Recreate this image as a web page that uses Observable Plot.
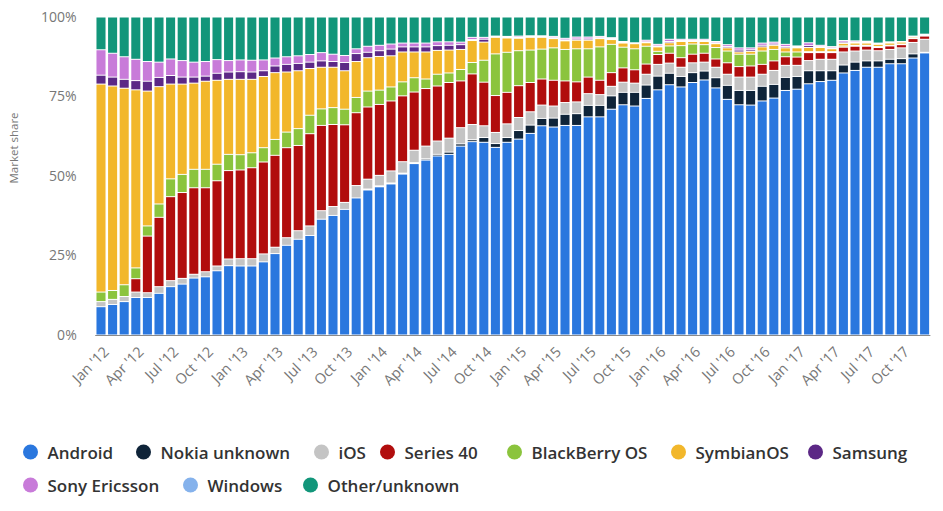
<!DOCTYPE html>
<html>
<head>
<meta charset="utf-8">
<script src="https://cdn.jsdelivr.net/npm/d3@7"></script>
<script src="https://cdn.jsdelivr.net/npm/@observablehq/plot@0.6"></script>
<style>
  html, body { margin: 0; padding: 0; background: #fff; }
  #wrap { position: relative; width: 943px; height: 511px; overflow: hidden; }
  #legend { position: absolute; left: 0; top: 0; width: 943px; height: 511px; pointer-events: none; }
  .item { position: absolute; display: flex; align-items: center; transform: translateY(-50%);
          font-family: "Open Sans", sans-serif; font-size: 17px; font-weight: 600; color: #333; white-space: nowrap; }
  .dot { width: 15px; height: 15px; border-radius: 50%; margin-right: 10px; flex: none; }
</style>
</head>
<body>
<div id="wrap"><div id="chart"></div><div id="legend"></div></div>
<script>
// ---- categories ----
const series = ["Android","Nokia unknown","iOS","Series 40","BlackBerry OS","SymbianOS","Samsung","Sony Ericsson","Windows","Other/unknown"];
const colors = ["#2a77de","#0f2439","#c4c4c4","#b10d0d","#8bc43d","#f2b72b","#5c2886","#c87bd9","#85b2ec","#12967a"];
const monthNames = ["Jan","Feb","Mar","Apr","May","Jun","Jul","Aug","Sep","Oct","Nov","Dec"];
const years = [2012, 2013, 2014, 2015, 2016, 2017];
const months = years.flatMap(y => monthNames.map(m => `${m} '${String(y).slice(2)}`));

// ---- series values (market share, %) ----
const android = [8.9,9.6,10.5,11.8,11.8,13.1,15.2,16.0,17.9,18.3,20.2,21.8,
  21.7,21.7,23.0,25.6,28.2,30.1,31.3,36.4,37.6,39.5,43.1,45.6,
  46.6,47.5,50.6,53.9,55.0,56.3,56.8,59.4,60.8,60.6,59.0,60.6,
  61.6,63.4,65.8,65.4,65.9,65.9,68.6,68.6,71.0,72.4,72.0,74.4,
  77.1,78.7,78.0,79.4,80.2,77.7,74.1,72.4,72.3,73.6,74.5,76.9,
  77.3,79.0,79.7,80.1,82.4,83.2,84.2,84.2,85.3,85.3,87.1,88.7];
const nokiaUnknown = [0,0,0,0,0,0,0,0,0,0,0,0,
  0,0,0,0,0,0,0,0,0,0,0,0.3,
  0.3,0.3,0.3,0.3,0.4,0.5,0.7,0.7,0.6,1.5,1.2,1.5,
  2.7,2.6,2.3,2.8,3.5,3.7,3.6,3.6,4.2,3.9,4.3,4.2,
  4.3,3.6,3.3,3.1,2.8,3.2,4.4,4.5,4.6,4.6,4.3,4.1,
  4.0,4.1,3.4,3.0,2.5,2.6,2.0,2.0,1.4,1.6,1.3,0.2];
const ios = [1.6,1.6,1.6,1.7,1.5,2.1,1.9,1.8,1.2,1.6,1.5,2.1,
  2.3,2.3,2.5,2.0,2.4,2.7,3.0,2.7,2.8,2.2,3.9,3.1,
  3.3,3.8,3.6,3.9,4.0,4.2,4.4,5.1,4.8,3.7,3.5,4.3,
  4.1,4.2,4.2,3.8,3.7,3.7,3.7,3.4,3.0,3.2,2.9,3.4,
  3.7,3.2,2.9,3.1,2.8,3.3,3.5,4.2,4.2,3.8,4.4,3.8,
  3.5,3.2,3.6,3.6,4.1,3.5,3.4,3.2,3.1,3.4,3.6,4.1];
const series40 = [0,0,0,4.2,17.8,21.8,26.4,27.0,27.2,26.4,26.8,27.8,
  27.9,28.6,28.9,28.9,28.3,26.8,29.0,26.8,25.8,24.4,22.9,22.7,
  22.3,22.0,20.7,18.3,18.1,17.3,17.5,14.7,15.9,13.7,11.6,9.9,
  10.0,9.2,8.2,8.1,6.8,6.3,5.2,4.5,4.3,4.5,4.2,3.2,
  3.1,3.1,3.0,2.7,2.8,2.6,3.6,3.3,3.5,3.1,3.0,2.7,
  2.6,2.5,2.1,2.1,1.5,1.5,1.2,1.0,1.1,1.0,1.2,1.0];
const blackberry = [3.0,2.8,3.7,3.4,3.2,4.2,5.6,5.7,5.8,5.8,5.2,5.1,
  4.8,4.7,4.5,5.0,4.9,5.3,5.8,5.2,5.3,4.9,4.8,5.0,
  4.5,4.4,4.4,4.5,3.0,3.7,3.0,3.6,3.6,6.9,13.1,12.6,
  11.0,10.2,9.4,10.2,9.9,10.4,8.9,10.5,8.9,6.5,6.6,5.6,
  1.0,2.3,3.8,3.2,2.7,3.6,3.7,3.9,3.7,4.2,3.6,1.5,
  1.6,0.3,0.3,0.3,0.4,0.3,0.3,0.3,0.2,0.2,0.1,0.1];
const symbian = [65.4,64.3,61.8,56.0,42.4,36.9,29.8,28.4,27.1,27.7,26.4,23.6,
  23.7,23.1,22.4,21.0,18.9,18.2,14.7,13.1,12.7,12.1,11.3,10.5,
  10.6,9.8,9.4,8.1,8.5,7.5,7.2,6.3,6.9,5.7,5.2,4.5,
  3.9,4.0,3.7,2.9,2.7,2.7,2.7,2.6,1.5,1.3,1.6,1.1,
  1.4,1.0,1.3,0.8,1.0,1.2,1.0,0.7,0.9,1.3,1.3,1.3,
  1.3,1.3,1.3,0.9,0.8,0.7,0.7,0.7,0.7,0.6,0.4,0.3];
const samsung = [2.8,2.8,2.8,2.9,3.1,2.9,2.7,2.2,1.9,1.6,2.2,2.3,
  2.4,2.3,1.8,2.1,2.4,2.3,2.0,2.0,1.8,2.6,2.5,1.7,
  1.8,2.1,1.6,1.6,1.6,1.5,1.5,1.5,0.3,0.9,0.2,0.2,
  0.3,0.2,0.2,0.3,0.3,0.4,0.4,0.3,0.3,0.2,0.1,0.3,
  0.3,0.4,0.3,0.3,0.3,0.3,0.4,0.6,0.5,0.5,0.4,0.4,
  0.3,0.6,0.3,0.3,0.4,0.3,0.3,0.2,0.2,0.1,0.1,0.1];
const sonyEricsson = [8.0,7.5,7.1,6.7,6.2,4.8,5.2,5.2,4.7,4.6,4.3,3.6,
  3.7,3.7,3.4,2.5,2.4,2.4,2.4,2.6,2.3,2.2,1.5,1.9,
  1.7,1.6,1.2,1.2,1.2,1.2,1.1,0.8,0.7,0.6,0.2,0.2,
  0.4,0.3,0.3,0.4,0.5,0.6,0.6,0.4,0.3,0.3,0.2,0.5,
  0.5,0.7,0.4,0.4,0.4,0.4,0.6,0.7,0.6,0.7,0.6,0.7,
  0.3,0.9,0.4,0.4,0.5,0.4,0.3,0.2,0.2,0.1,0.2,0.1];
const windows = [0,0,0,0,0,0,0,0,0,0,0,0,
  0,0,0,0,0,0,0,0,0,0,0,0,
  0,0,0,0,0,0,0,0,0,0,0,0.1,
  0,0,0,0,0,0,0,0,0,0,0,0,
  0,0,0,0,0,0,0,0,0,0,0,0,
  0,0,0,0,0,0,0,0,0,0,0,0];
const other = [10.3,11.4,12.5,13.3,14.0,14.2,13.2,13.7,14.2,14.0,13.4,13.7,
  13.5,13.6,13.5,12.9,12.5,12.2,11.8,11.2,11.7,12.1,10.0,9.2,
  8.9,8.5,8.2,8.2,8.2,7.8,7.8,7.9,6.4,6.4,6.0,6.1,
  6.0,5.9,5.9,6.1,6.7,6.3,6.3,6.1,6.5,7.7,8.1,7.3,
  8.6,7.0,7.0,7.0,7.0,7.7,8.7,9.7,9.7,8.2,7.9,8.6,
  9.1,8.1,8.9,9.3,7.4,7.5,7.6,8.2,7.8,7.7,6.0,5.4];
const yTicks = [0, 25, 50, 75, 100];

const valuesBySeries = [android, nokiaUnknown, ios, series40, blackberry, symbian, samsung, sonyEricsson, windows, other];
const data = months.flatMap((m, i) => series.map((s, j) => ({month: m, os: s, value: valuesBySeries[j][i]})));
const xTicks = months.filter((d, i) => i % 3 === 0);

const chart = Plot.plot({
  width: 943,
  height: 420,
  marginTop: 17,
  marginBottom: 85,
  marginLeft: 95.2,
  marginRight: 12.6,
  style: {background: "#fff", overflow: "visible"},
  x: {domain: months, paddingInner: 0.22, paddingOuter: 0.11, axis: null},
  y: {domain: [0, 1], axis: null},
  color: {domain: series, range: colors},
  marks: [
    Plot.barY(data, Plot.stackY({offset: "normalize", order: series}, {
      x: "month", y: "value", fill: "os", insetTop: 0.5, insetBottom: 0.5
    })),
    Plot.ruleY([0], {stroke: "#8a8a8a", strokeWidth: 1}),
    Plot.axisX({ticks: xTicks, tickRotate: -45, tickSize: 0, tickPadding: 12, label: null, dx: 5, dy: 2,
      fontSize: 14.5, fill: "#777", fontFamily: "Open Sans, sans-serif", style: {letterSpacing: "0.4px"}}),
    Plot.axisY(yTicks.map(d => d / 100), {tickFormat: d => Math.round(d * 100) + "%", tickSize: 0, tickPadding: 19,
      fontSize: 14, fill: "#777", label: null, fontFamily: "Open Sans, sans-serif"})
  ]
});
document.getElementById("chart").appendChild(chart);

d3.select(chart).append("text")
  .attr("transform", "translate(18,148) rotate(-90)")
  .attr("text-anchor", "middle")
  .attr("font-family", "Open Sans, sans-serif")
  .attr("font-size", 11.5)
  .attr("fill", "#777")
  .text("Market share");

// ---- legend ----
const legendPos = [[30,452],[143,452],[321,452],[387,452],[514,452],[678,452],[815,452],[30,485],[190,485],[310,485]];
const legend = d3.select("#legend");
series.forEach((s, i) => {
  const it = legend.append("div").attr("class", "item")
    .style("left", (legendPos[i][0] - 7.5) + "px").style("top", legendPos[i][1] + "px");
  it.append("div").attr("class", "dot").style("background", colors[i]);
  it.append("span").text(s);
});
</script>
</body>
</html>
